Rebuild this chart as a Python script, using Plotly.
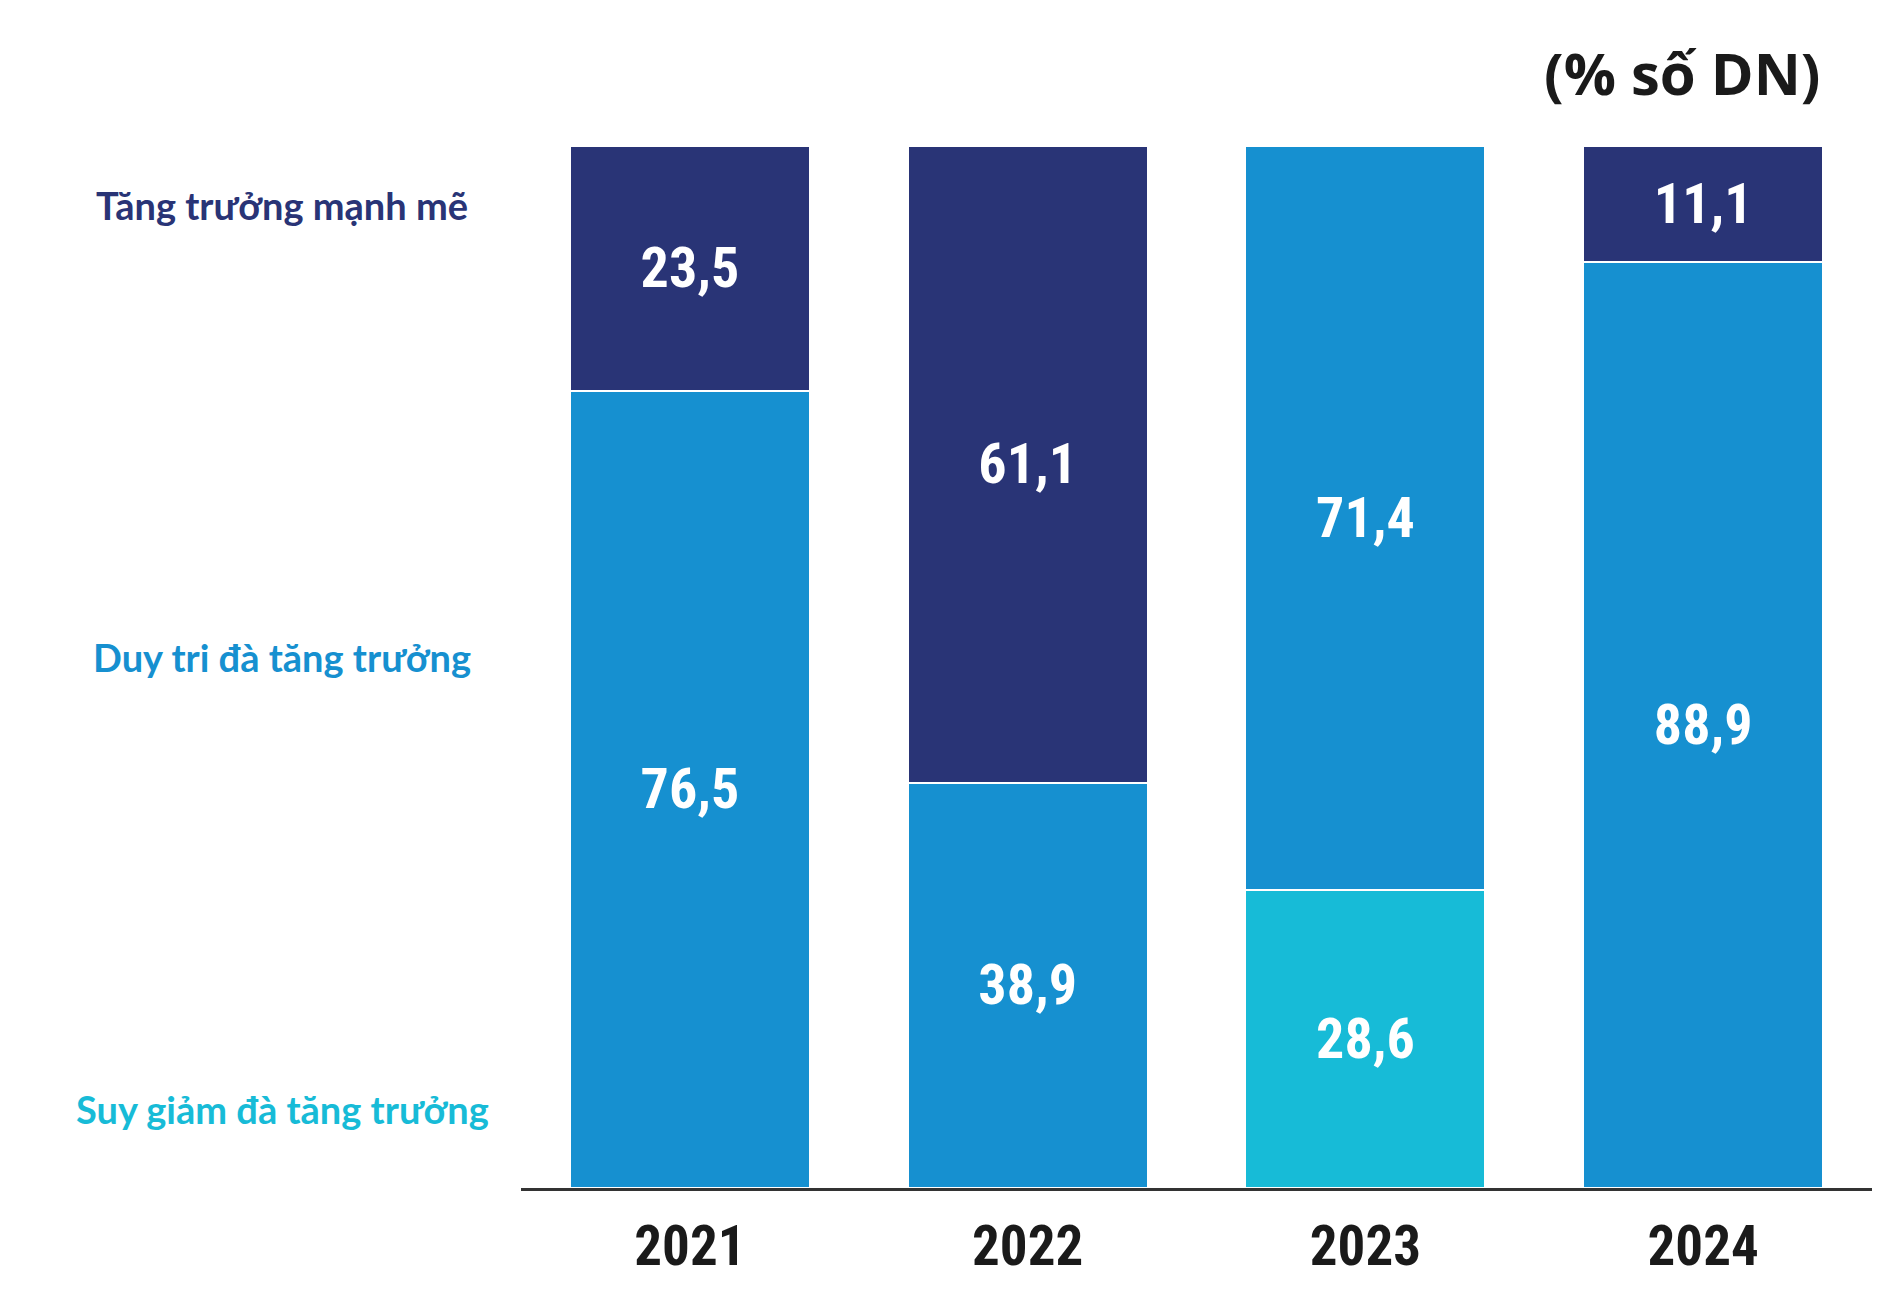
import plotly.graph_objects as go

years = ["2021", "2022", "2023", "2024"]
series_names = ["Suy giảm đà tăng trưởng", "Duy tri đà tăng trưởng", "Tăng trưởng mạnh mẽ"]
suy_giam = [0, 0, 28.6, 0]
duy_tri = [76.5, 38.9, 71.4, 88.9]
tang_truong = [23.5, 61.1, 0, 11.1]
unit_label = "(% số DN)"

colors = ["#17BBD7", "#1690D0", "#293476"]
label_y = [7.6, 51.0, 94.3]

COND = "Roboto Condensed, DejaVu Sans Condensed, Liberation Sans Narrow, Roboto, sans-serif"

def fmt(v):
    return "" if v == 0 else f"{v:.1f}".replace(".", ",")

fig = go.Figure()
for name, vals, col in zip(series_names, [suy_giam, duy_tri, tang_truong], colors):
    fig.add_trace(go.Bar(
        x=years, y=vals, name=name,
        marker=dict(color=col, line=dict(color="white", width=2)),
        text=[fmt(v) for v in vals],
        textposition="inside", insidetextanchor="middle",
        textangle=0,
        textfont=dict(family=COND, size=56, color="white", weight="bold"),
        hoverinfo="skip",
    ))

L, R, T, B = 521, 18, 146, 111
W, H = 1890, 1299
pw = W - L - R

for name, col, yv in zip(series_names, colors, label_y):
    fig.add_annotation(
        xref="paper", yref="y", x=(282 - L) / pw, y=yv,
        text=f"<b>{name}</b>", showarrow=False,
        xanchor="center", yanchor="middle",
        font=dict(family="Lato", size=38, color=col),
    )

fig.add_annotation(
    xref="paper", yref="paper", x=(1823 - L) / pw, y=1 + (T - 72) / (H - T - B),
    text=f"<b>{unit_label}</b>", showarrow=False,
    xanchor="right", yanchor="middle",
    font=dict(family="Open Sans", size=58, color="#1a1a1a"),
)

fig.update_layout(
    width=W, height=H,
    margin=dict(l=L, r=R, t=T, b=B, autoexpand=False),
    barmode="stack", bargap=0.29,
    plot_bgcolor="white", paper_bgcolor="white",
    showlegend=False,
    uniformtext=dict(minsize=10, mode="show"),
)
fig.update_xaxes(
    type="category", range=[-0.5, 3.5], automargin=False,
    showline=True, linecolor="#333333", linewidth=3,
    showgrid=False, ticks="", ticklabelstandoff=8,
    tickfont=dict(family=COND, size=55, color="#1a1a1a", weight="bold"),
    layer="below traces",
)
fig.update_yaxes(range=[0, 100], visible=False, showgrid=False, automargin=False)

fig.write_html("out.html")
